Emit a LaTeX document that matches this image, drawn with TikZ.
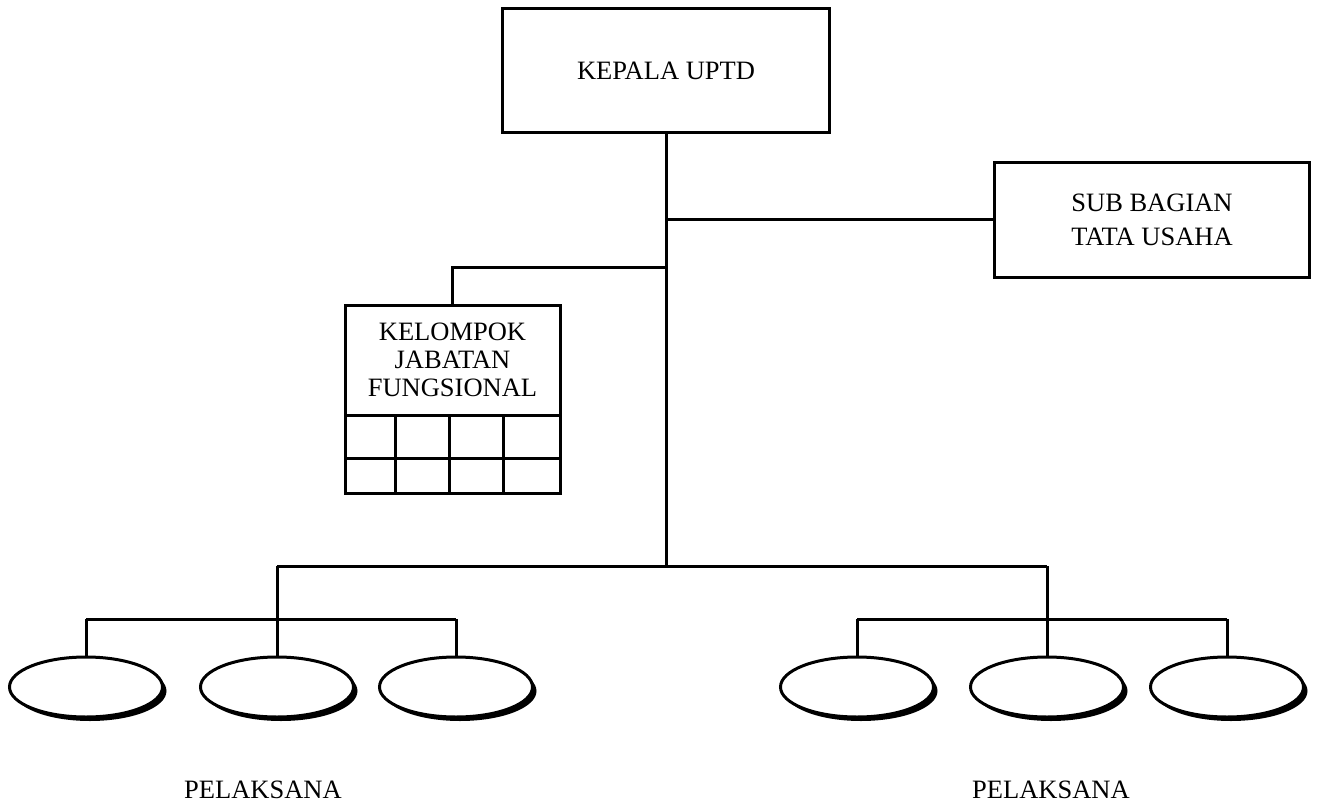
\documentclass[tikz,border=0pt]{standalone}
\usepackage{fontspec}
\setmainfont{Liberation Serif}
\usetikzlibrary{shadows,shapes.geometric}
\begin{document}
\begin{tikzpicture}[x=1pt,y=-1pt,
  line width=3pt,
  box/.style={draw,rectangle,inner sep=0pt,outer sep=0pt,align=center,font=\fontsize{26.5}{28}\selectfont},
  oval/.style={draw,ellipse,fill=white,minimum width=153pt,minimum height=60pt,inner sep=0pt,outer sep=0pt,
    drop shadow={shadow xshift=4pt,shadow yshift=-4pt,fill=black,opacity=1}},
  lbl/.style={font=\fontsize{26.5}{28}\selectfont}]
\useasboundingbox (0,0) rectangle (1317,805);
% boxes
\node[box,minimum width=327pt,minimum height=124pt] (kepala) at (666,71) {KEPALA UPTD};
\node[box,minimum width=315pt,minimum height=115pt,font=\fontsize{26.5}{34}\selectfont] (sub) at (1152,220) {SUB BAGIAN\\TATA USAHA};
\node[box,minimum width=215pt,minimum height=110pt] (kjf) at (452.5,360) {KELOMPOK\\JABATAN\\FUNGSIONAL};
% grid under KJF
\draw (kjf.south west) rectangle ++(215,78);
\draw ([yshift=-43pt]kjf.south west) -- ++(215,0);
\foreach \dx in {50,104,158} \draw ([xshift=\dx pt]kjf.south west) -- ++(0,78);
% ovals
\node[oval] (l1) at (86,687) {};
\node[oval] (l2) at (277,687) {};
\node[oval] (l3) at (456,687) {};
\node[oval] (r1) at (857,687) {};
\node[oval] (r2) at (1047,687) {};
\node[oval] (r3) at (1227,687) {};
% labels
\node[lbl] (p1) at (263,790) {PELAKSANA};
\node[lbl] (p2) at (1051,790) {PELAKSANA};
% connectors
\coordinate (tb) at (kepala.south |- 0,566);
\draw (kepala.south) -- (tb);
\draw (kepala.south |- sub.west) -- (sub.west);
\coordinate (tk) at (kepala.south |- 0,267);
\draw (tk) -| (kjf.north);
\draw (l2.north |- tb) -- (r2.north |- tb);
\draw (l2.north |- tb) -- (l2.north);
\draw (r2.north |- tb) -- (r2.north);
\coordinate (lh) at (0,619);
\draw (l1.north |- lh) -- (l3.north |- lh);
\draw (l1.north |- lh) -- (l1.north);
\draw (l3.north |- lh) -- (l3.north);
\draw (r1.north |- lh) -- (r3.north |- lh);
\draw (r1.north |- lh) -- (r1.north);
\draw (r3.north |- lh) -- (r3.north);
\end{tikzpicture}
\end{document}
